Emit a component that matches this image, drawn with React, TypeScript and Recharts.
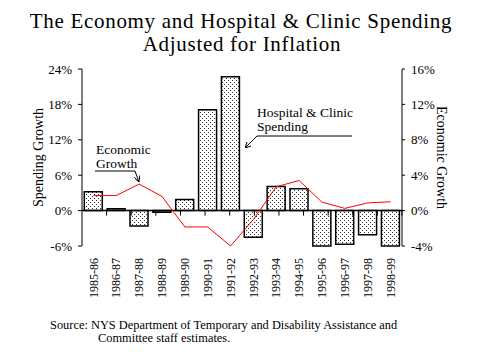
import {
  ComposedChart, Bar, Line, XAxis, YAxis, ReferenceLine,
} from "recharts";

const serif = '"Times New Roman", "Liberation Serif", Tinos, "DejaVu Serif", Times, serif';
const ink = "#000";

const years = [
  "1985-86", "1986-87", "1987-88", "1988-89", "1989-90", "1990-91", "1991-92",
  "1992-93", "1993-94", "1994-95", "1995-96", "1996-97", "1997-98", "1998-99",
];
const spending = [3.2, 0.3, -2.6, -0.3, 1.9, 17.1, 22.7, -4.5, 4.1, 3.7, -6.0, -5.7, -4.1, -6.0];
const economic = [1.7, 1.7, 3.0, 1.6, -1.85, -1.85, -4.0, -1.0, 2.7, 3.4, 0.95, 0.25, 0.87, 1.0];
const leftTicks = [-6, 0, 6, 12, 18, 24];
const rightTicks = [-4, 0, 4, 8, 12, 16];

const data = years.map((year, i) => ({ year, spending: spending[i], economic: economic[i] }));
const boundaries = years.slice(1).map((_, i) => i + 1);

function YearTick({ x, y, payload }: { x?: number; y?: number; payload?: { value: string } }) {
  return (
    <text x={x} y={y} dy="0.35em" textAnchor="end" transform={`rotate(-90, ${x}, ${y})`}
      fontSize={12} style={{ fontFamily: serif }} fill={ink}>
      {payload?.value}
    </text>
  );
}

function SideLabel({ viewBox, value, side }: { viewBox?: any; value: string; side: "left" | "right" }) {
  if (!viewBox) return null;
  const cy = viewBox.y + viewBox.height / 2;
  const cx = side === "left" ? viewBox.x - 4 : viewBox.x + viewBox.width;
  return (
    <text x={cx} y={cy} dy="0.35em" textAnchor="middle" fontSize={14} style={{ fontFamily: serif }} fill={ink}
      transform={`rotate(${side === "left" ? -90 : 90}, ${cx}, ${cy})`}>
      {value}
    </text>
  );
}

export default function App() {
  const tick = { fontSize: 13, fill: ink, style: { fontFamily: serif } };
  const t = { fontFamily: serif };
  return (
    <div style={{ position: "absolute", left: 0, top: 0, width: 479, height: 359, background: "#fff", fontFamily: serif }}>
      <ComposedChart width={479} height={359} data={data} margin={{ top: 69, right: 37, bottom: 63, left: 42 }}
        style={{ fontFamily: serif }}>
        <defs>
          <pattern id="dots" width="4" height="4" patternUnits="userSpaceOnUse">
            <rect width="4" height="4" fill="#fff" />
            <rect x="0" y="0" width="1" height="1" fill="#333" />
            <rect x="2" y="2" width="1" height="1" fill="#333" />
          </pattern>
        </defs>
        <XAxis dataKey="year" axisLine={false} tickLine={false} tickSize={0} tickMargin={12}
          height={50} interval={0} tick={<YearTick />} />
        <XAxis xAxisId="grid" type="number" domain={[0, years.length]} hide allowDataOverflow />
        <YAxis yAxisId="left" domain={[-6, 24]} ticks={leftTicks} width={40} tickSize={4} tickMargin={6}
          tick={tick} tickFormatter={(v) => `${v}%`} axisLine={{ stroke: ink }} tickLine={{ stroke: ink }}
          label={{ content: (p: any) => <SideLabel viewBox={p.viewBox} value="Spending Growth" side="left" /> }} />
        <YAxis yAxisId="right" orientation="right" domain={[-4, 16]} ticks={rightTicks} width={40} tickSize={3}
          tickMargin={6} tick={tick} tickFormatter={(v) => `${v}%`} axisLine={{ stroke: ink }} tickLine={{ stroke: ink }}
          label={{ content: (p: any) => <SideLabel viewBox={p.viewBox} value="Economic Growth" side="right" /> }} />
        <Bar dataKey="spending" yAxisId="left" fill="url(#dots)" stroke={ink} strokeWidth={1.5}
          barCategoryGap={0.5} isAnimationActive={false} />
        <ReferenceLine y={0} yAxisId="left" stroke={ink} strokeWidth={1.5} />
        {boundaries.map((b) => (
          <ReferenceLine key={b} xAxisId="grid" yAxisId="left" stroke={ink} strokeWidth={1}
            segment={[{ x: b, y: 0 }, { x: b, y: -0.85 }]} />
        ))}
        <Line dataKey="economic" yAxisId="right" type="linear" stroke="#ff0000" strokeWidth={1}
          dot={false} isAnimationActive={false} />
      </ComposedChart>

      <svg width={479} height={359} style={{ position: "absolute", left: 0, top: 0, pointerEvents: "none", fontFamily: serif }}>
        <defs>
          <marker id="arrow" viewBox="0 0 6 6" refX="6" refY="3" markerWidth="6" markerHeight="6" orient="auto">
            <path d="M0,0 L6,3 L0,6" fill="none" stroke={ink} strokeWidth={1} />
          </marker>
        </defs>
        <text x={241} y={28} textAnchor="middle" fontSize={21} letterSpacing={0.7} style={t} fill={ink}>
          The Economy and Hospital &amp; Clinic Spending
        </text>
        <text x={242} y={51} textAnchor="middle" fontSize={21} letterSpacing={0.7} style={t} fill={ink}>
          Adjusted for Inflation
        </text>

        <text x={96} y={154} fontSize={13.5} style={t} fill={ink}>Economic</text>
        <text x={96} y={168} fontSize={13.5} style={t} fill={ink}>Growth</text>
        <path d="M95,171 L135,171 L139,182" fill="none" stroke={ink} strokeWidth={1} markerEnd="url(#arrow)" />

        <text x={257} y={117} fontSize={13.5} style={t} fill={ink}>Hospital &amp; Clinic</text>
        <text x={257} y={131} fontSize={13.5} style={t} fill={ink}>Spending</text>
        <path d="M352,136 L257,136 L245,148" fill="none" stroke={ink} strokeWidth={1} markerEnd="url(#arrow)" />

        <text x={50} y={329} fontSize={12.4} style={t} fill={ink}>
          Source:  NYS Department of Temporary and Disability Assistance and
        </text>
        <text x={98} y={342} fontSize={12.4} style={t} fill={ink}>Committee staff estimates.</text>
      </svg>
    </div>
  );
}
